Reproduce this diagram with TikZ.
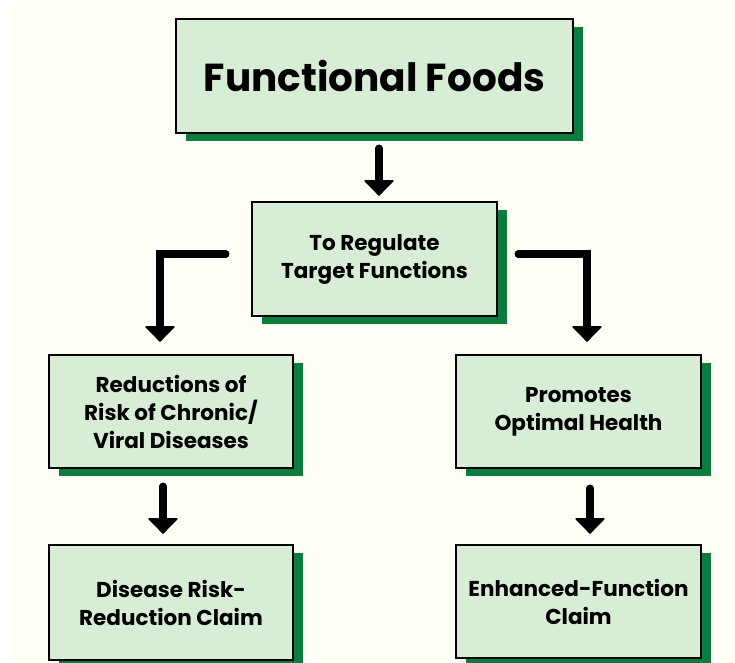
\documentclass[tikz,border=0pt]{standalone}
\usepackage{fontspec}
\setmainfont{Poppins}
\usetikzlibrary{arrows.meta,shadows,calc}
\definecolor{bgc}{HTML}{FDFEF6}
\definecolor{boxc}{HTML}{D8EDD5}
\definecolor{shc}{HTML}{0B7B3E}
\begin{document}
\begin{tikzpicture}[x=1pt,y=-1pt,
  box/.style={draw=black, line width=2.5pt, fill=boxc, rectangle, align=center,
    inner sep=0pt, general shadow={fill=shc, shadow xshift=10pt, shadow yshift=-8pt},
    font=\bfseries\fontsize{21.5}{28}\selectfont},
  flow/.style={line width=7.5pt, line cap=round, line join=miter,
    -{Triangle[width=31pt,length=16pt,round,line width=1.5pt]}}]
\useasboundingbox (0,0) rectangle (735,662);
\fill[white] (0,0) rectangle (735,662);
\fill[bgc] (10,6) rectangle (735,662);
\node[box, minimum width=397pt, minimum height=114pt, font=\bfseries\fontsize{39}{44}\selectfont] (ff) at (374.5,76) {Functional Foods};
\node[box, minimum width=245pt, minimum height=114pt] (reg) at (374.5,259) {To Regulate\\Target Functions};
\node[box, minimum width=244pt, minimum height=113pt] (red) at (171,411.5) {Reductions of\\Risk of Chronic/\\Viral Diseases};
\node[box, minimum width=245pt, minimum height=113pt] (opt) at (578.5,411.5) {Promotes\\Optimal Health};
\node[box, minimum width=244pt, minimum height=115pt] (drc) at (171,602.5) {Disease Risk-\\Reduction Claim};
\node[box, minimum width=245pt, minimum height=113pt] (efc) at (578.5,601.5) {Enhanced-Function\\Claim};
\draw[flow] ($(ff.south)+(4.5,14)$) -- ($(reg.north)+(4.5,-5)$);
\draw[flow] ($(reg.west)+(-25,-5)$) -| ($(red.north)+(-11,-12)$);
\draw[flow] ($(reg.east)+(20,-5)$) -| ($(opt.north)+(8.5,-12)$);
\draw[flow] ($(red.south)+(-8,17)$) -- ($(drc.north)+(-8,-10)$);
\draw[flow] ($(opt.south)+(11.5,19)$) -- ($(efc.north)+(11.5,-10)$);
\end{tikzpicture}
\end{document}
